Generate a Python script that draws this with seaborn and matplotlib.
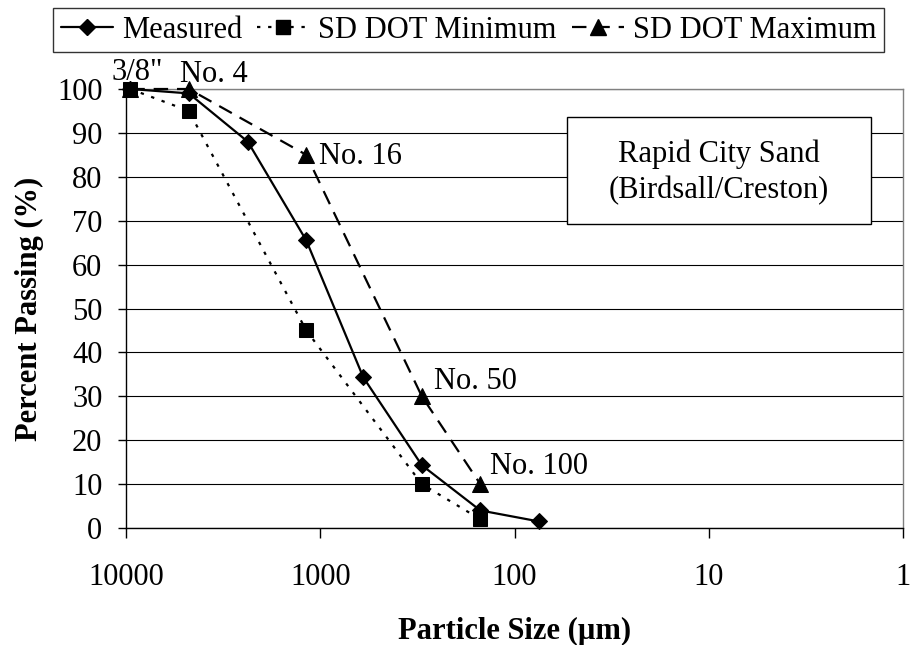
import matplotlib
matplotlib.use("Agg")
import matplotlib.pyplot as plt
import seaborn as sns
import pandas as pd
from matplotlib.lines import Line2D
from matplotlib.patches import Rectangle
from matplotlib.ticker import FixedLocator, FixedFormatter, NullLocator

# ---- data ----
measured_size = [9500, 4750, 2360, 1180, 600, 300, 150, 75]
measured_pass = [100, 99, 88, 65.5, 34.3, 14.3, 4, 1.5]
min_size = [9500, 4750, 1180, 300, 150]
min_pass = [100, 95, 45, 10, 2]
max_size = [9500, 4750, 1180, 300, 150]
max_pass = [100, 100, 85, 30, 10]
sieve_labels = ['3/8"', "No. 4", "No. 16", "No. 50", "No. 100"]
sieve_sizes = [9500, 4750, 1180, 300, 150]
x_ticks = [10000, 1000, 100, 10, 1]
x_ticklabels = ["10000", "1000", "100", "10", "1"]
y_ticks = [0, 10, 20, 30, 40, 50, 60, 70, 80, 90, 100]
series_names = ["Measured", "SD DOT Minimum", "SD DOT Maximum"]
box_text = "Rapid City Sand\n(Birdsall/Creston)"

sns.set_theme(style="white")
plt.rcParams['font.family'] = ['Liberation Serif', 'DejaVu Serif']

FS = 22
W, H = 911, 645
AX_L, AX_R, AX_T, AX_B = 126, 903, 89, 528
fig = plt.figure(figsize=(W / 100, H / 100), dpi=100)
ax = fig.add_axes([AX_L / W, 1 - AX_B / H, (AX_R - AX_L) / W, (AX_B - AX_T) / H])

df_meas = pd.DataFrame({"size": measured_size, "pass": measured_pass})
df_min = pd.DataFrame({"size": min_size, "pass": min_pass})
df_max = pd.DataFrame({"size": max_size, "pass": max_pass})

lw = 1.6
dot_style = (0, (1.5, 3.5))
dash_style = (0, (6.5, 4))
sns.lineplot(data=df_max, x="size", y="pass", ax=ax, color="black", lw=lw,
             linestyle=dash_style, marker="^", markersize=11,
             markeredgecolor="black", markerfacecolor="black", sort=False,
             clip_on=False, zorder=3)
sns.lineplot(data=df_min, x="size", y="pass", ax=ax, color="black", lw=lw,
             linestyle=dot_style, marker="s", markersize=10,
             markeredgecolor="black", markerfacecolor="black", sort=False,
             clip_on=False, zorder=3)
sns.lineplot(data=df_meas, x="size", y="pass", ax=ax, color="black", lw=lw,
             linestyle="-", marker="D", markersize=8.5,
             markeredgecolor="black", markerfacecolor="black", sort=False,
             clip_on=False, zorder=4)

ax.set_xscale("log")
ax.set_xlim(10000, 1)
ax.set_ylim(0, 100)
ax.xaxis.set_major_locator(FixedLocator(x_ticks))
ax.xaxis.set_major_formatter(FixedFormatter(x_ticklabels))
ax.xaxis.set_minor_locator(NullLocator())
ax.set_yticks(y_ticks)
ax.set_yticklabels([str(v) for v in y_ticks])

ax.yaxis.grid(True, color="black", lw=0.8)
ax.xaxis.grid(False)
ax.set_axisbelow(True)

for side in ["left", "bottom"]:
    ax.spines[side].set_color("black")
    ax.spines[side].set_linewidth(1.0)
for side in ["top", "right"]:
    ax.spines[side].set_color("#808080")
    ax.spines[side].set_linewidth(1.0)

ax.tick_params(axis="x", which="major", direction="out", length=7, width=1,
               color="black", labelsize=FS, pad=18, bottom=True)
ax.tick_params(axis="y", which="major", direction="out", length=6, width=1,
               color="black", labelsize=FS, pad=11, left=True)
for lab in ax.get_xticklabels() + ax.get_yticklabels():
    lab.set_color("black")

ax.set_xlabel("Particle Size (µm)", fontsize=FS, fontweight="bold",
              color="black", labelpad=18)
ax.set_ylabel("Percent Passing (%)", fontsize=FS, fontweight="bold",
              color="black", labelpad=9)

# sieve annotations
offsets = [(7, 16, "center"), (-9, 15, "left"), (13, -2, "left"),
           (12, 15, "left"), (10, 18, "left")]
for lab, sz, (dx, dy, ha) in zip(sieve_labels, sieve_sizes, offsets):
    yv = max_pass[max_size.index(sz)]
    ax.annotate(lab, xy=(sz, yv), xytext=(dx, dy), textcoords="offset pixels",
                ha=ha, va="center", fontsize=FS, color="black", zorder=5)

# text box
bx0, bx1, by0, by1 = 567, 871, 117, 224
ax.add_patch(Rectangle(((bx0 - AX_L) / (AX_R - AX_L), (AX_B - by1) / (AX_B - AX_T)),
                       (bx1 - bx0) / (AX_R - AX_L), (by1 - by0) / (AX_B - AX_T),
                       transform=ax.transAxes, fc="white", ec="black", lw=1.0,
                       zorder=6))
ax.text(((bx0 + bx1) / 2 - AX_L) / (AX_R - AX_L),
        (AX_B - 172) / (AX_B - AX_T), box_text,
        transform=ax.transAxes, ha="center", va="center", fontsize=FS,
        color="black", linespacing=1.3, zorder=7)

handles = [
    Line2D([], [], color="black", lw=lw, linestyle="-", marker="D",
           markersize=8.5),
    Line2D([], [], color="black", lw=lw, linestyle=dot_style, marker="s",
           markersize=10),
    Line2D([], [], color="black", lw=lw, linestyle=dash_style, marker="^",
           markersize=11),
]
leg = fig.legend(handles, series_names, loc="upper left",
                 bbox_to_anchor=(53 / W, 1 - 8 / H), ncol=3, fontsize=FS,
                 frameon=True, fancybox=False, edgecolor="black",
                 handlelength=1.7, handletextpad=0.3, columnspacing=0.5,
                 borderpad=0.25, borderaxespad=0)
leg.get_frame().set_linewidth(1.0)
for t in leg.get_texts():
    t.set_color("black")

fig.savefig("out.png", dpi=100)
